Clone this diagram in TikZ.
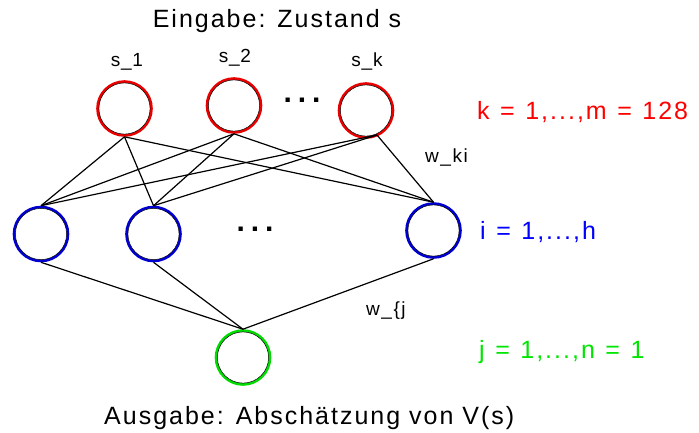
\documentclass[tikz,border=0pt]{standalone}
\usepackage{fontspec}
\usetikzlibrary{calc}
\setmainfont{Liberation Sans}
\newfontfamily\biglbl[LetterSpace=8]{Liberation Sans}
\newfontfamily\smlbl[LetterSpace=4]{Liberation Sans}
\newfontfamily\dotfont[LetterSpace=20]{Liberation Sans Bold}
\newcommand\rgap{\hspace{10.5pt}}
\definecolor{cred}{RGB}{235,0,0}
\definecolor{cblue}{RGB}{0,0,210}
\definecolor{cgreen}{RGB}{0,220,0}
\definecolor{tred}{RGB}{255,0,0}
\definecolor{tblue}{RGB}{0,0,255}
\definecolor{tgreen}{RGB}{0,230,0}
\tikzset{
  unit/.style={circle, minimum size=54pt, inner sep=0pt, line width=2.6pt},
  inunit/.style={unit, draw=cred},
  hidunit/.style={unit, draw=cblue},
  outunit/.style={unit, draw=cgreen},
  ring/.style={draw=black, line width=0.5pt},
  edge/.style={draw=black, line width=1.2pt},
  bigtext/.style={inner sep=0pt, font=\biglbl\fontsize{25}{30}\selectfont},
  rangetext/.style={bigtext, anchor=base west},
  smtext/.style={inner sep=0pt, font=\smlbl\fontsize{19}{23}\selectfont},
  wtext/.style={inner sep=0pt, font=\biglbl\fontsize{19}{23}\selectfont},
  dotstext/.style={inner sep=0pt, font=\dotfont\fontsize{30}{30}\selectfont}
}
\begin{document}
\begin{tikzpicture}[x=1pt, y=-1pt]
\useasboundingbox (0,0) rectangle (699,432);
% titles
\node[bigtext, anchor=base] (title) at (277,27) {Eingabe: Zustand s};
\node[bigtext, anchor=base west] (out) at (104,424) {Ausgabe: Absch\"atzung von V(s)};
% input labels
\node[smtext, anchor=base] (ls1) at (127,66) {s\_1};
\node[smtext, anchor=base] (ls2) at (235,62) {s\_2};
\node[smtext, anchor=base] (lsk) at (367,66.5) {s\_k};
% units
\node[inunit] (s1) at (124.5,108.5) {};
\node[inunit] (s2) at (234,105.5) {};
\node[inunit] (sk) at (366,110.5) {};
\node[hidunit] (h1) at (41,234) {};
\node[hidunit] (h2) at (153.5,234) {};
\node[hidunit] (h3) at (433.5,230.5) {};
\node[outunit] (o) at (243,357.5) {};
\foreach \n in {s1,s2,sk,h1,h2,h3,o} \draw[ring] (\n.center) circle (25.6pt);
% dots
\node[dotstext, anchor=base] (dotsA) at (302,102) {...};
\node[dotstext, anchor=base] (dotsB) at (255,231.5) {...};
% edges
\coordinate (skb) at ($(sk.center)+(11,24.5)$);
\foreach \a in {s1,s2} \foreach \b in {h1,h2,h3} \draw[edge] (\a.south) -- (\b.north);
\foreach \b in {h1,h2,h3} \draw[edge] (skb) -- (\b.north);
\foreach \a in {h1,h2,h3} \draw[edge] (\a.south) -- (o.north);
% weights
\node[wtext, anchor=base west] (wki) at (425,162) {w\_ki};
\node[wtext, anchor=base west] (wj) at (366,315) {w\_\{j};
% ranges
\node[rangetext, text=tred] (lk) at (477,119) {k\rgap=\rgap1,...,m\rgap=\rgap128};
\node[rangetext, text=tblue] (li) at (480,239) {i\rgap=\rgap1,...,h};
\node[rangetext, text=tgreen] (lj) at (479,358) {j\rgap=\rgap1,...,n\rgap=\rgap1};
\end{tikzpicture}
\end{document}
